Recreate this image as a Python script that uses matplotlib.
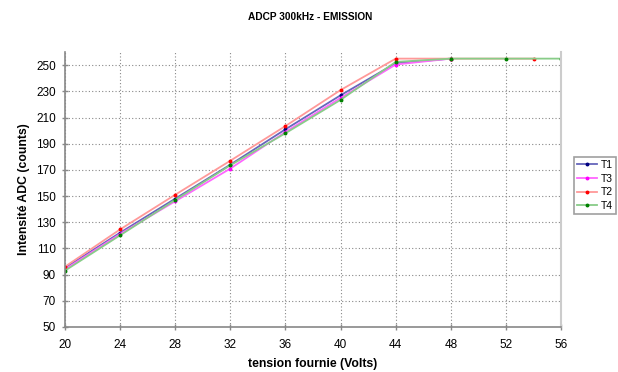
import matplotlib.pyplot as plt

plt.rcParams["font.family"] = ["Liberation Sans", "DejaVu Sans"]

# tension (V) -> intensite ADC (counts)
x_t1 = [20, 24, 28, 32, 36, 40, 44, 48]
y_t1 = [95, 122, 148, 174, 201, 227, 251.5, 255]
x_t3 = [20, 24, 28, 32, 36, 40, 44, 48]
y_t3 = [94, 121, 146, 171, 199, 225, 250.5, 255]
x_t2 = [20, 24, 28, 32, 36, 40, 44, 48, 54]
y_t2 = [96, 124.5, 151, 177, 203.5, 231, 255, 255, 255]
x_t4 = [20, 24, 28, 32, 36, 40, 44, 48, 52, 56]
y_t4 = [93, 120, 147, 173.5, 198, 223.5, 252.5, 255, 255, 255]

series = [
    ("T1", x_t1, y_t1, "#6666bb", "#000080"),
    ("T3", x_t3, y_t3, "#ff66ff", "#ff00ff"),
    ("T2", x_t2, y_t2, "#ff9999", "#ff0000"),
    ("T4", x_t4, y_t4, "#88cc88", "#008000"),
]

fig = plt.figure(figsize=(6.18, 3.72), dpi=100)
ax = fig.add_axes([0.105, 0.121, 0.803, 0.739])

for name, xs, ys, lc, mc in series:
    ax.plot(xs, ys, color=lc, lw=1.3, marker="o", ms=1.8,
            mfc=mc, mec=mc, label=name)

ax.set_xlim(20, 56)
ax.set_ylim(50, 260)
ax.set_xticks(range(20, 57, 4))
ax.set_yticks(range(50, 251, 20))
ax.grid(True, color="#888888", ls=(0, (1, 2)), lw=0.8)
ax.set_axisbelow(True)

ax.spines["top"].set_visible(False)
ax.spines["right"].set_color("#cccccc")
ax.spines["right"].set_linewidth(1.5)
for s in ("left", "bottom"):
    ax.spines[s].set_color("#888888")
    ax.spines[s].set_linewidth(1.2)
ax.tick_params(direction="inout", length=5, width=1, color="#888888",
               labelsize=8.5)
ax.tick_params(axis="x", pad=6)
ax.tick_params(axis="y", pad=4)

ax.set_xlabel("tension fournie (Volts)", fontsize=8.8, fontweight="bold",
              labelpad=5)
ax.set_ylabel("Intensité ADC (counts)", fontsize=8.8, fontweight="bold",
              labelpad=4)
fig.text(0.502, 0.954, "ADCP 300kHz - EMISSION", ha="center", va="center",
         fontsize=7.3, fontweight="bold")

leg = fig.legend(loc="upper left", bbox_to_anchor=(0.928, 0.578),
                 fontsize=7.5, frameon=True, fancybox=False,
                 handlelength=2.0, handletextpad=0.3, borderpad=0.3,
                 labelspacing=0.35, borderaxespad=0)
leg.get_frame().set_edgecolor("#888888")
leg.get_frame().set_linewidth(1.2)

fig.savefig("out.png", dpi=100)
plt.close("all")
